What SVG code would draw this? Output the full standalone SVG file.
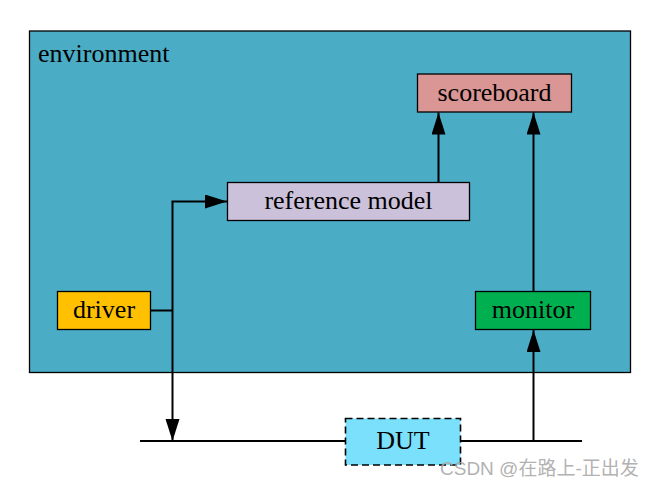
<svg xmlns="http://www.w3.org/2000/svg" width="653" height="487" viewBox="0 0 653 487">
<style>
.box{stroke:#000;stroke-width:1.3}
.lbl{font-family:"Liberation Serif","Times New Roman",serif;font-size:26px;fill:#000;text-anchor:middle}
.wire{fill:none;stroke:#000;stroke-width:2}
</style>
<defs>
<marker id="arr" markerUnits="userSpaceOnUse" markerWidth="24" markerHeight="16" refX="22" refY="7" orient="auto">
<path d="M0,0 L22,7 L0,14 Z" fill="#000"/>
</marker>
</defs>
<rect width="653" height="487" fill="#fff"/>
<g id="environment">
<rect class="box" x="29.5" y="31" width="601" height="341.5" fill="#4BACC6"/>
<text x="38" y="62" style="font-family:'Liberation Serif','Times New Roman',serif;font-size:26px">environment</text>
</g>
<g id="scoreboard">
<rect class="box" x="417.5" y="74" width="154" height="38" fill="#D99694"/>
<text class="lbl" x="494.5" y="101">scoreboard</text>
</g>
<g id="reference-model">
<rect class="box" x="227.5" y="182.5" width="242" height="38" fill="#CCC1DA"/>
<text class="lbl" x="348.5" y="209">reference model</text>
</g>
<g id="driver">
<rect class="box" x="57.5" y="291.5" width="93" height="38" fill="#FFC000"/>
<text class="lbl" x="104" y="318">driver</text>
</g>
<g id="monitor">
<rect class="box" x="475.5" y="291.5" width="115" height="38" fill="#00B050"/>
<text class="lbl" x="533" y="318">monitor</text>
</g>
<g id="connectors">
<path class="wire" d="M150.5,310.5 H172.5"/>
<path class="wire" d="M172.5,201.5 V441" marker-end="url(#arr)"/>
<path class="wire" d="M172.5,202 V201.5 H227" marker-end="url(#arr)"/>
<path class="wire" d="M438.5,182.5 V112.5" marker-end="url(#arr)"/>
<path class="wire" d="M533.5,291.5 V112.5" marker-end="url(#arr)"/>
<path class="wire" d="M140,441 H345"/>
<path class="wire" d="M460.5,441 H582"/>
<path class="wire" d="M533.5,441 V330" marker-end="url(#arr)"/>
</g>
<g id="DUT">
<rect x="345.5" y="418.5" width="115" height="46.5" fill="#7BE0FB" stroke="#000" stroke-width="1.6" stroke-dasharray="7,4"/>
<text class="lbl" x="403" y="449">DUT</text>
</g>
<text x="440" y="475" style="font-family:'Liberation Sans','Noto Sans CJK SC',sans-serif;font-size:19px;fill:#a8a8a8;fill-opacity:0.9">CSDN @在路上-正出发</text>
</svg>
